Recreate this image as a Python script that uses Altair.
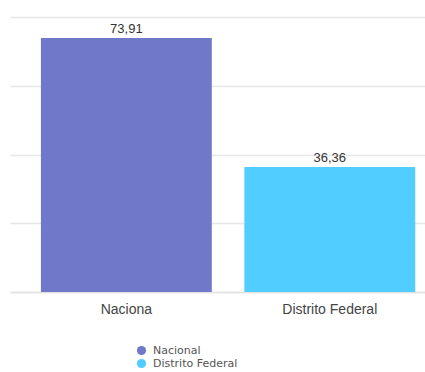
import altair as alt
import pandas as pd

axis_labels = ["Naciona", "Distrito Federal"]
legend_names = ["Nacional", "Distrito Federal"]
values = [73.91, 36.36]
value_text = ["73,91", "36,36"]
colors = ["#7079C9", "#52CDFF"]

df = pd.DataFrame({"cat": axis_labels, "serie": legend_names, "val": values, "txt": value_text})

x = alt.X("cat:N", sort=axis_labels, title=None,
          scale=alt.Scale(paddingInner=0.16, paddingOuter=0.1, align=0.76),
          axis=alt.Axis(labelAngle=0, labelFontSize=14, labelColor="#444", labelFont="Liberation Sans",
                        ticks=False, grid=False, domain=True, domainColor="#e3e3e3", domainWidth=1.5,
                        labelPadding=10))
y = alt.Y("val:Q", title=None, scale=alt.Scale(domain=[0, 80]),
          axis=alt.Axis(values=[0, 20, 40, 60, 80], labels=False, ticks=False, domain=False,
                        grid=True, gridColor="#e8e8e8", gridWidth=1.5))

bars = alt.Chart(df).mark_bar().encode(
    x=x, y=y,
    color=alt.Color("serie:N", sort=legend_names,
                    scale=alt.Scale(domain=legend_names, range=colors),
                    legend=alt.Legend(title=None, orient="none", legendX=126, legendY=328,
                                      symbolType="circle", symbolSize=85, labelFontSize=11,
                                      labelColor="#555", labelFont="DejaVu Sans", rowPadding=1,
                                      labelOffset=6))
)
labels = alt.Chart(df).mark_text(dy=-9, fontSize=13, color="#333", font="Liberation Sans").encode(
    x=alt.X("cat:N", sort=axis_labels), y="val:Q", text="txt:N")

chart = (bars + labels).properties(
    width=415, height=275, background="white",
    padding={"left": 10, "top": 17, "right": 0, "bottom": 5}
).configure_view(stroke=None)

chart.save("out.html", embed_options={"renderer": "svg", "actions": False})
